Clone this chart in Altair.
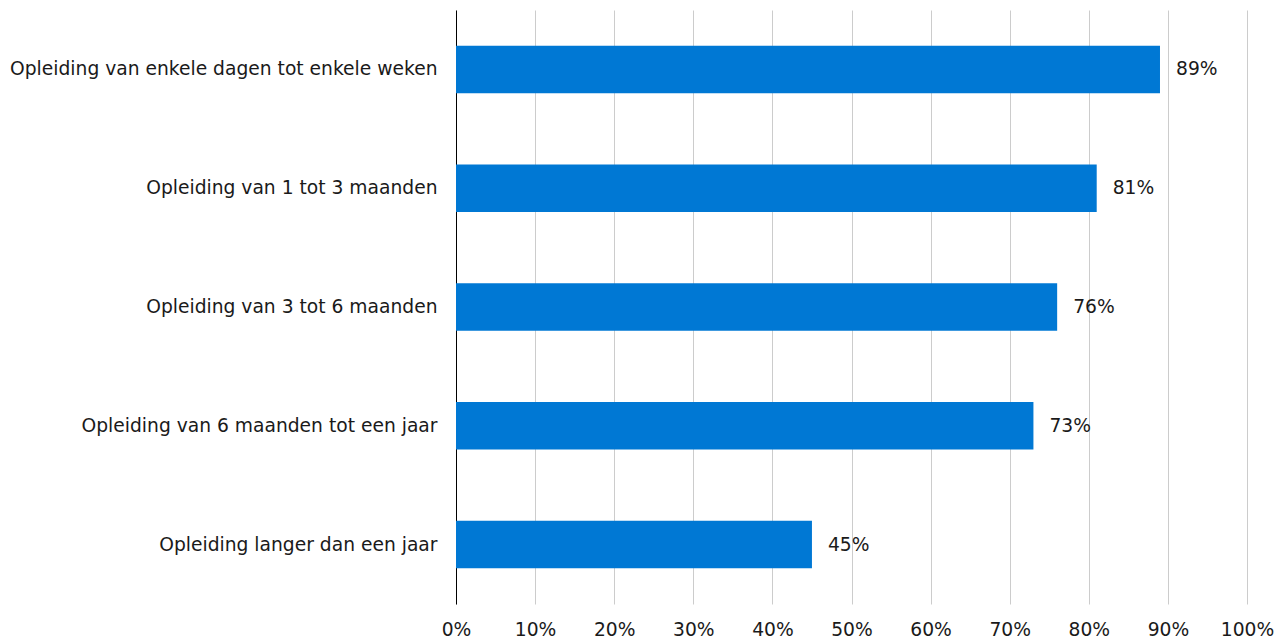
import altair as alt
import pandas as pd

categories = [
    "Opleiding van enkele dagen tot enkele weken",
    "Opleiding van 1 tot 3 maanden",
    "Opleiding van 3 tot 6 maanden",
    "Opleiding van 6 maanden tot een jaar",
    "Opleiding langer dan een jaar",
]
values = [0.89, 0.81, 0.76, 0.73, 0.45]
labels = ["89%", "81%", "76%", "73%", "45%"]

df = pd.DataFrame({"cat": categories, "val": values, "lab": labels})

FONT = "DejaVu Sans"
FS = 18.7

y = alt.Y(
    "cat:N",
    sort=categories,
    title=None,
    scale=alt.Scale(paddingInner=0.6, paddingOuter=0.3),
    axis=alt.Axis(
        domain=True,
        domainColor="#000000",
        domainWidth=1,
        ticks=False,
        labelPadding=19,
        labelFont=FONT,
        labelFontSize=FS,
        labelColor="#1a1a1a",
        labelLimit=500,
        grid=False,
    ),
)
x = alt.X(
    "val:Q",
    title=None,
    scale=alt.Scale(domain=[0, 1], nice=False),
    axis=alt.Axis(
        format=".0%",
        values=[i / 10 for i in range(11)],
        domain=False,
        ticks=False,
        grid=True,
        gridColor="#cccccc",
        gridWidth=1,
        labelPadding=16,
        labelFont=FONT,
        labelFontSize=FS,
        labelColor="#1a1a1a",
        labelFlush=False,
    ),
)

bars = alt.Chart(df).mark_bar(color="#0078D4").encode(x=x, y=y)
text = alt.Chart(df).mark_text(
    align="left", baseline="middle", dx=16, font=FONT, fontSize=FS, color="#1a1a1a"
).encode(x="val:Q", y=alt.Y("cat:N", sort=categories), text="lab:N")

chart = (
    alt.layer(bars, text)
    .properties(
        width=791,
        height=594,
        autosize=alt.AutoSizeParams(type="none"),
        padding={"left": 448, "top": 2, "right": 28, "bottom": 34},
    )
    .configure_view(stroke=None)
)

chart.save("out.html", embed_options={"renderer": "svg", "actions": False})
